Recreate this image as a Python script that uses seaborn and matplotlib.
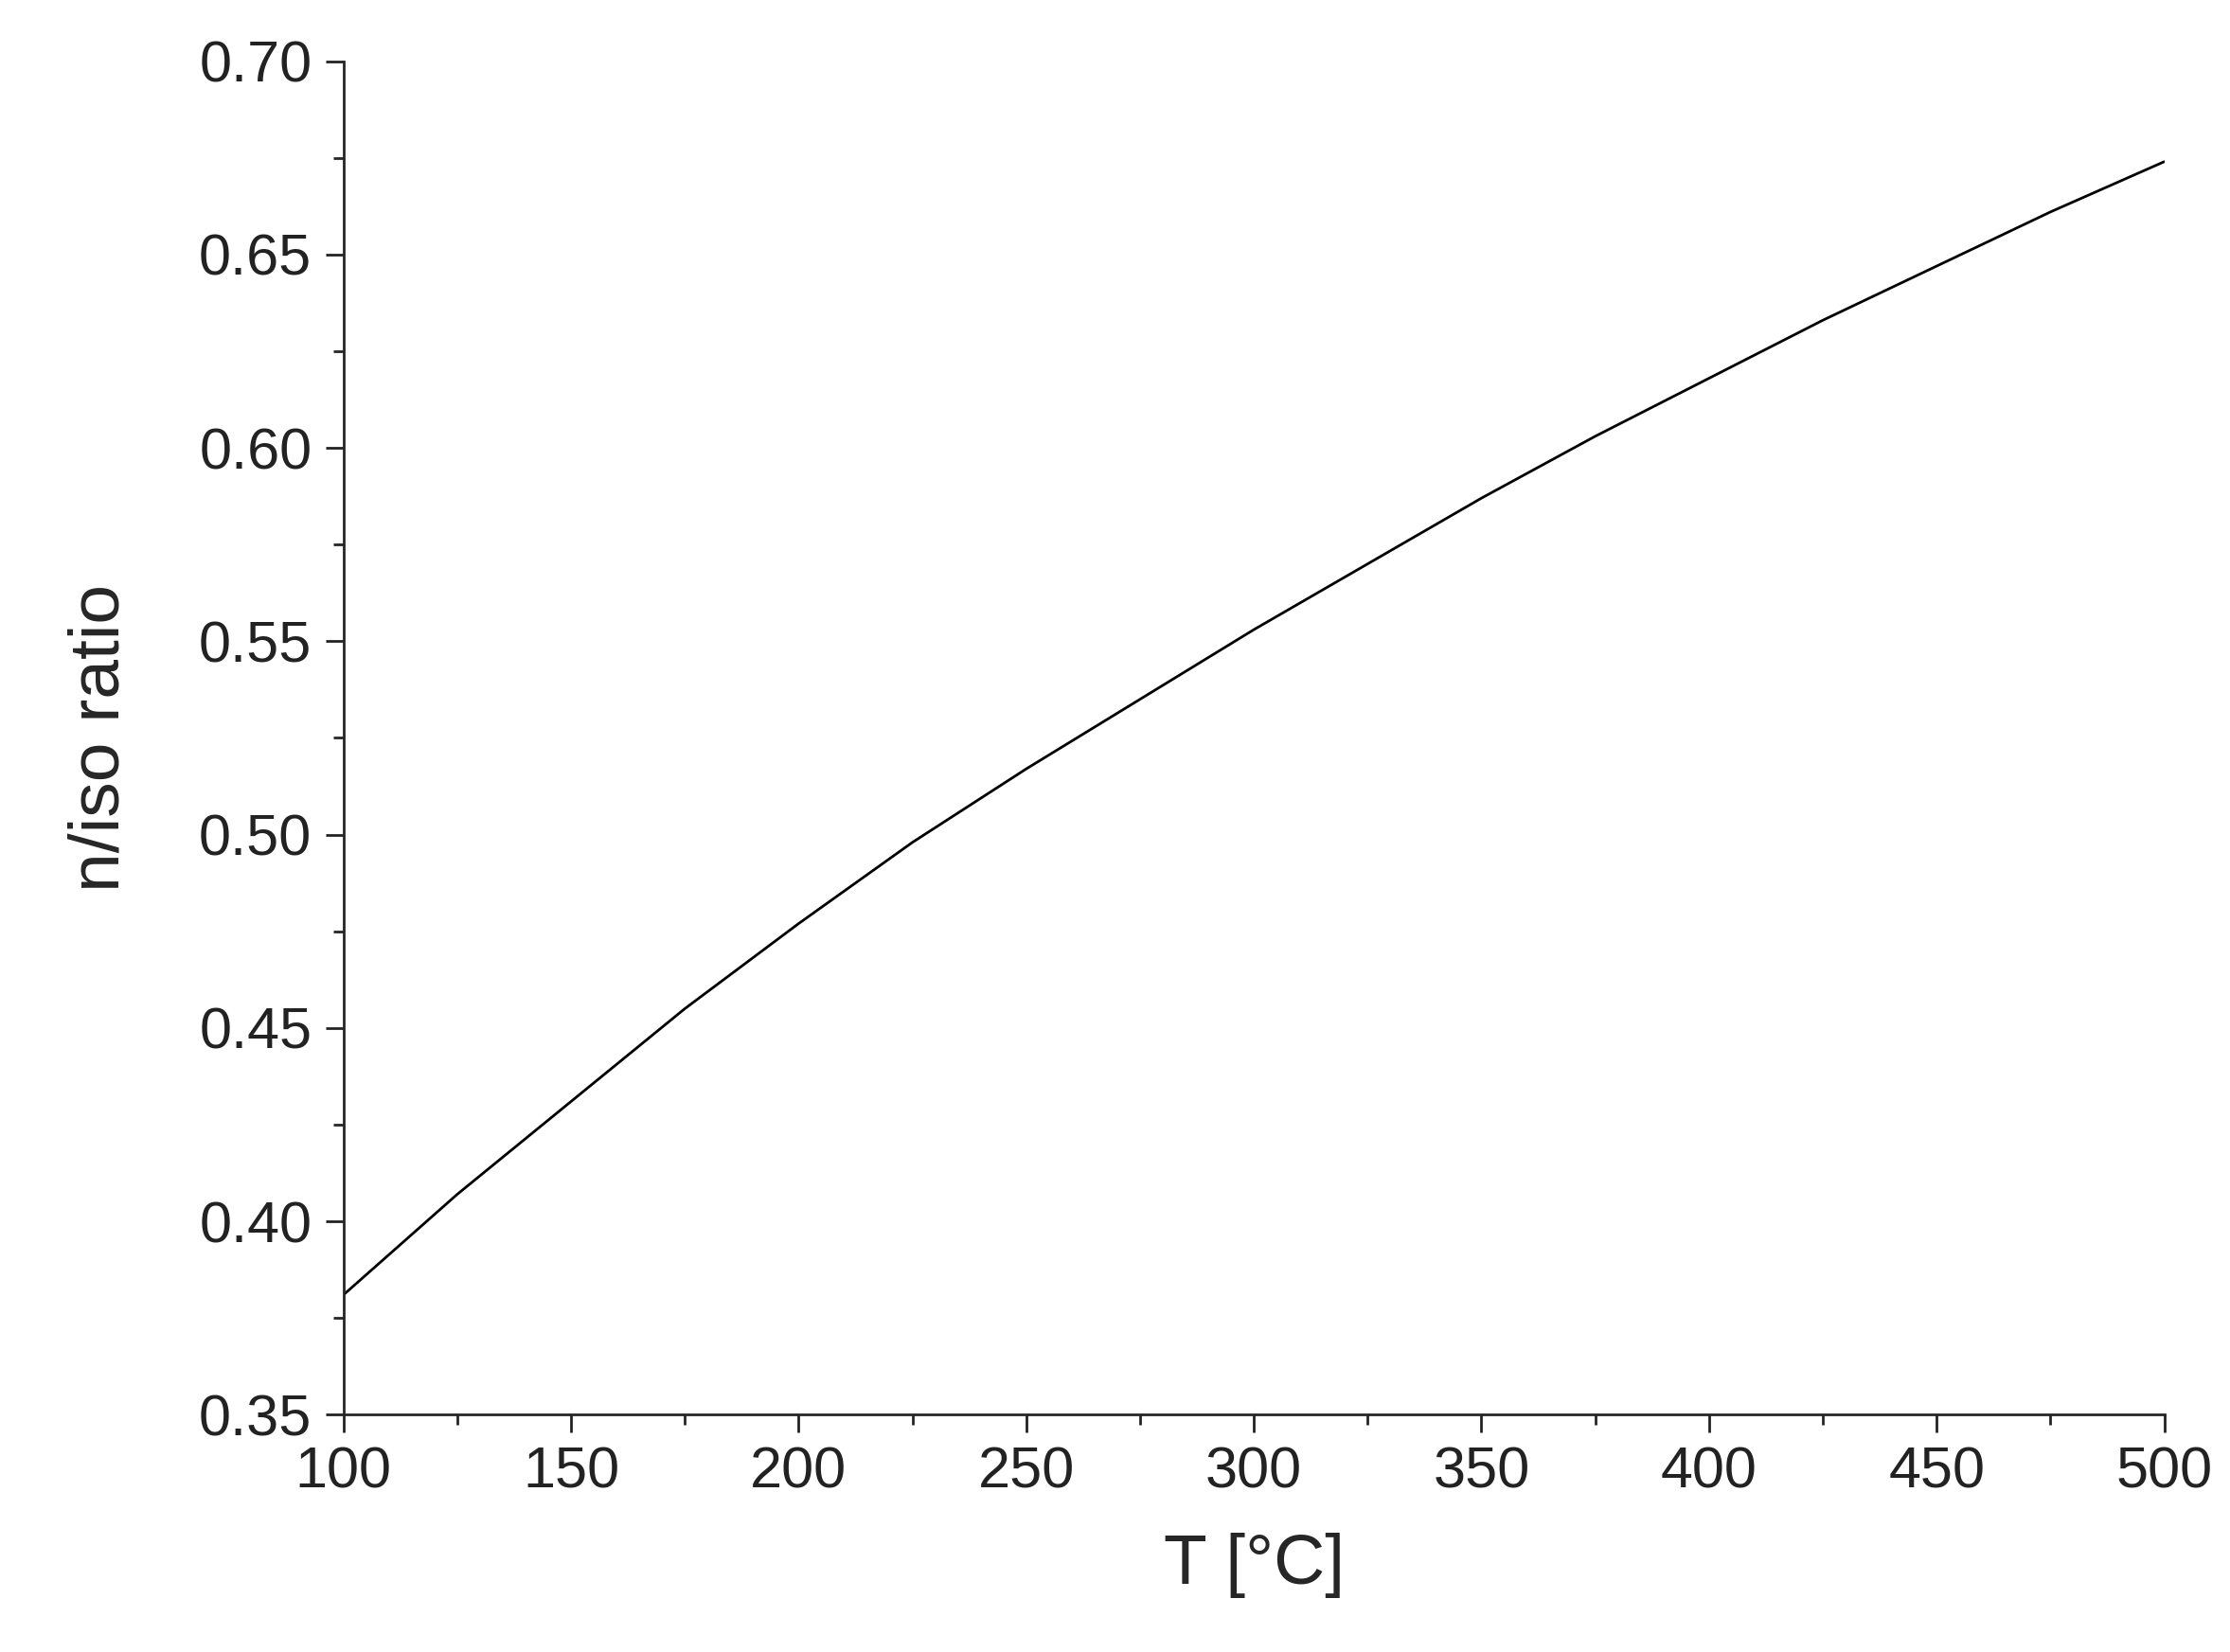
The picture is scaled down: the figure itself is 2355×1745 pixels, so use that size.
import matplotlib
matplotlib.use("Agg")
import matplotlib.pyplot as plt
import seaborn as sns
from matplotlib.ticker import MultipleLocator

# values
temperature = [100, 125, 150, 175, 200, 225, 250, 275, 300, 325, 350, 375, 400, 425, 450, 475, 500]
ratio = [0.381, 0.407, 0.431, 0.455, 0.477, 0.498, 0.517, 0.535, 0.553, 0.570, 0.587, 0.603, 0.618, 0.633, 0.647, 0.661, 0.674]

sns.set_style("ticks")
plt.rcParams['font.family'] = ['Liberation Sans', 'DejaVu Sans']

fig = plt.figure(figsize=(23.55, 17.45), dpi=100)
ax = fig.add_axes([0.154, 0.1436, 0.8165, 0.8194])
sns.lineplot(x=temperature, y=ratio, ax=ax, color="black", linewidth=2)

ax.set_xlim(100, 500)
ax.set_ylim(0.35, 0.70)
ax.xaxis.set_major_locator(MultipleLocator(50))
ax.xaxis.set_minor_locator(MultipleLocator(25))
ax.yaxis.set_major_locator(MultipleLocator(0.05))
ax.yaxis.set_minor_locator(MultipleLocator(0.025))
ax.yaxis.set_major_formatter(matplotlib.ticker.FormatStrFormatter('%.2f'))
ax.tick_params(which="major", direction="out", length=14, width=2, labelsize=44, colors="#222222", pad=10)
ax.tick_params(which="minor", direction="out", length=8, width=2)
sns.despine(ax=ax)
for s in ax.spines.values():
    s.set_linewidth(2)

ax.set_xlabel("T [°C]", fontsize=54, labelpad=25)
ax.set_ylabel("n/iso ratio", fontsize=54, labelpad=50)

fig.savefig("out.png", dpi=100)
